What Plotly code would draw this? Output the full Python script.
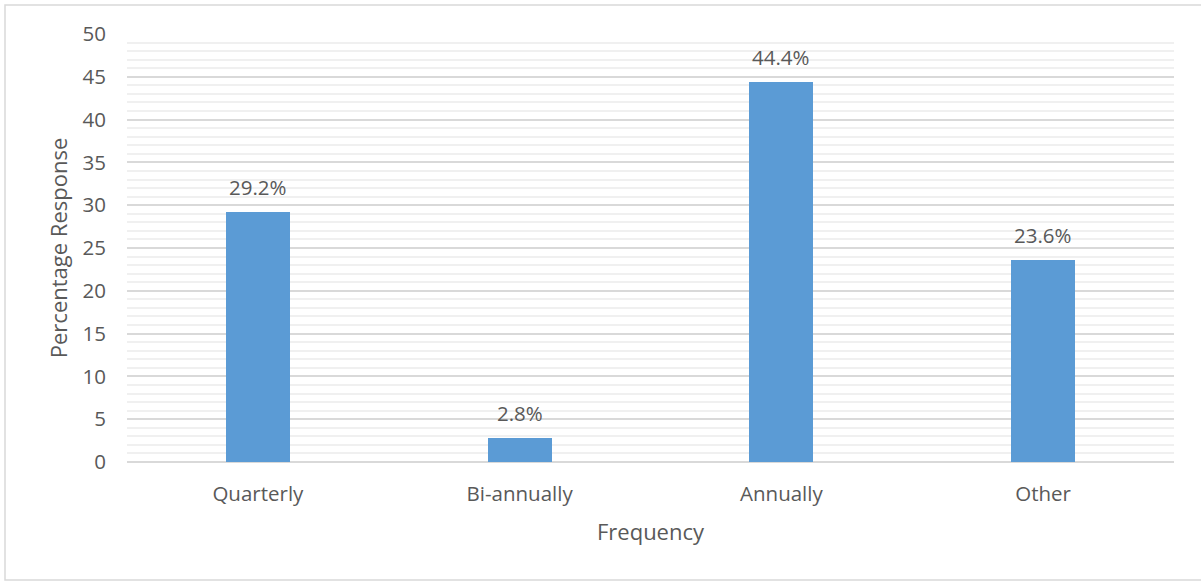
import plotly.graph_objects as go

categories = ["Quarterly", "Bi-annually", "Annually", "Other"]
values = [29.2, 2.8, 44.4, 23.6]
labels = ["29.2%", "2.8%", "44.4%", "23.6%"]

TXT = "#595959"
FONT = "Open Sans"

fig = go.Figure()
fig.add_trace(go.Bar(
    x=categories, y=values, marker=dict(color="#5b9bd5", line=dict(width=0)),
    width=0.245, hoverinfo="skip",
))

for c, v, t in zip(categories, values, labels):
    fig.add_annotation(x=c, y=v, text=t, showarrow=False, yanchor="bottom",
                       yshift=9, font=dict(family=FONT, size=20.5, color=TXT))

W, H = 1201, 581
L, R, T, B = 127, 27, 34, 119
pw, ph = W - L - R, H - T - B

def px_x(p):
    return (p - L) / pw

def px_y(p):
    return (H - B - p) / ph

fig.add_shape(type="rect", xref="paper", yref="paper",
              x0=px_x(5), x1=px_x(1230), y0=px_y(580), y1=px_y(5),
              line=dict(color="#d9d9d9", width=1.5), fillcolor="rgba(0,0,0,0)", layer="below")

fig.update_layout(
    width=W, height=H,
    margin=dict(l=L, r=R, t=T, b=B, autoexpand=False),
    paper_bgcolor="white", plot_bgcolor="white",
    showlegend=False, bargap=0,
    font=dict(family=FONT, color=TXT),
    xaxis=dict(
        showgrid=False, showline=False, ticks="", zeroline=False,
        tickfont=dict(size=20.5, color=TXT), ticklabelstandoff=17,
        title=dict(text="Frequency", font=dict(size=22, color=TXT), standoff=19),
    ),
    yaxis=dict(
        range=[0, 50], dtick=5, tick0=0,
        showgrid=True, gridcolor="#d9d9d9", gridwidth=1.5,
        zeroline=True, zerolinecolor="#d9d9d9", zerolinewidth=1.5,
        showline=False, ticks="",
        tickfont=dict(size=20.5, color=TXT), ticklabelstandoff=20,
        minor=dict(dtick=1, showgrid=True, gridcolor="#f0f0f0", gridwidth=1.5),
        title=dict(text="Percentage Response", font=dict(size=22, color=TXT), standoff=8),
    ),
)

fig.write_html("out.html")
